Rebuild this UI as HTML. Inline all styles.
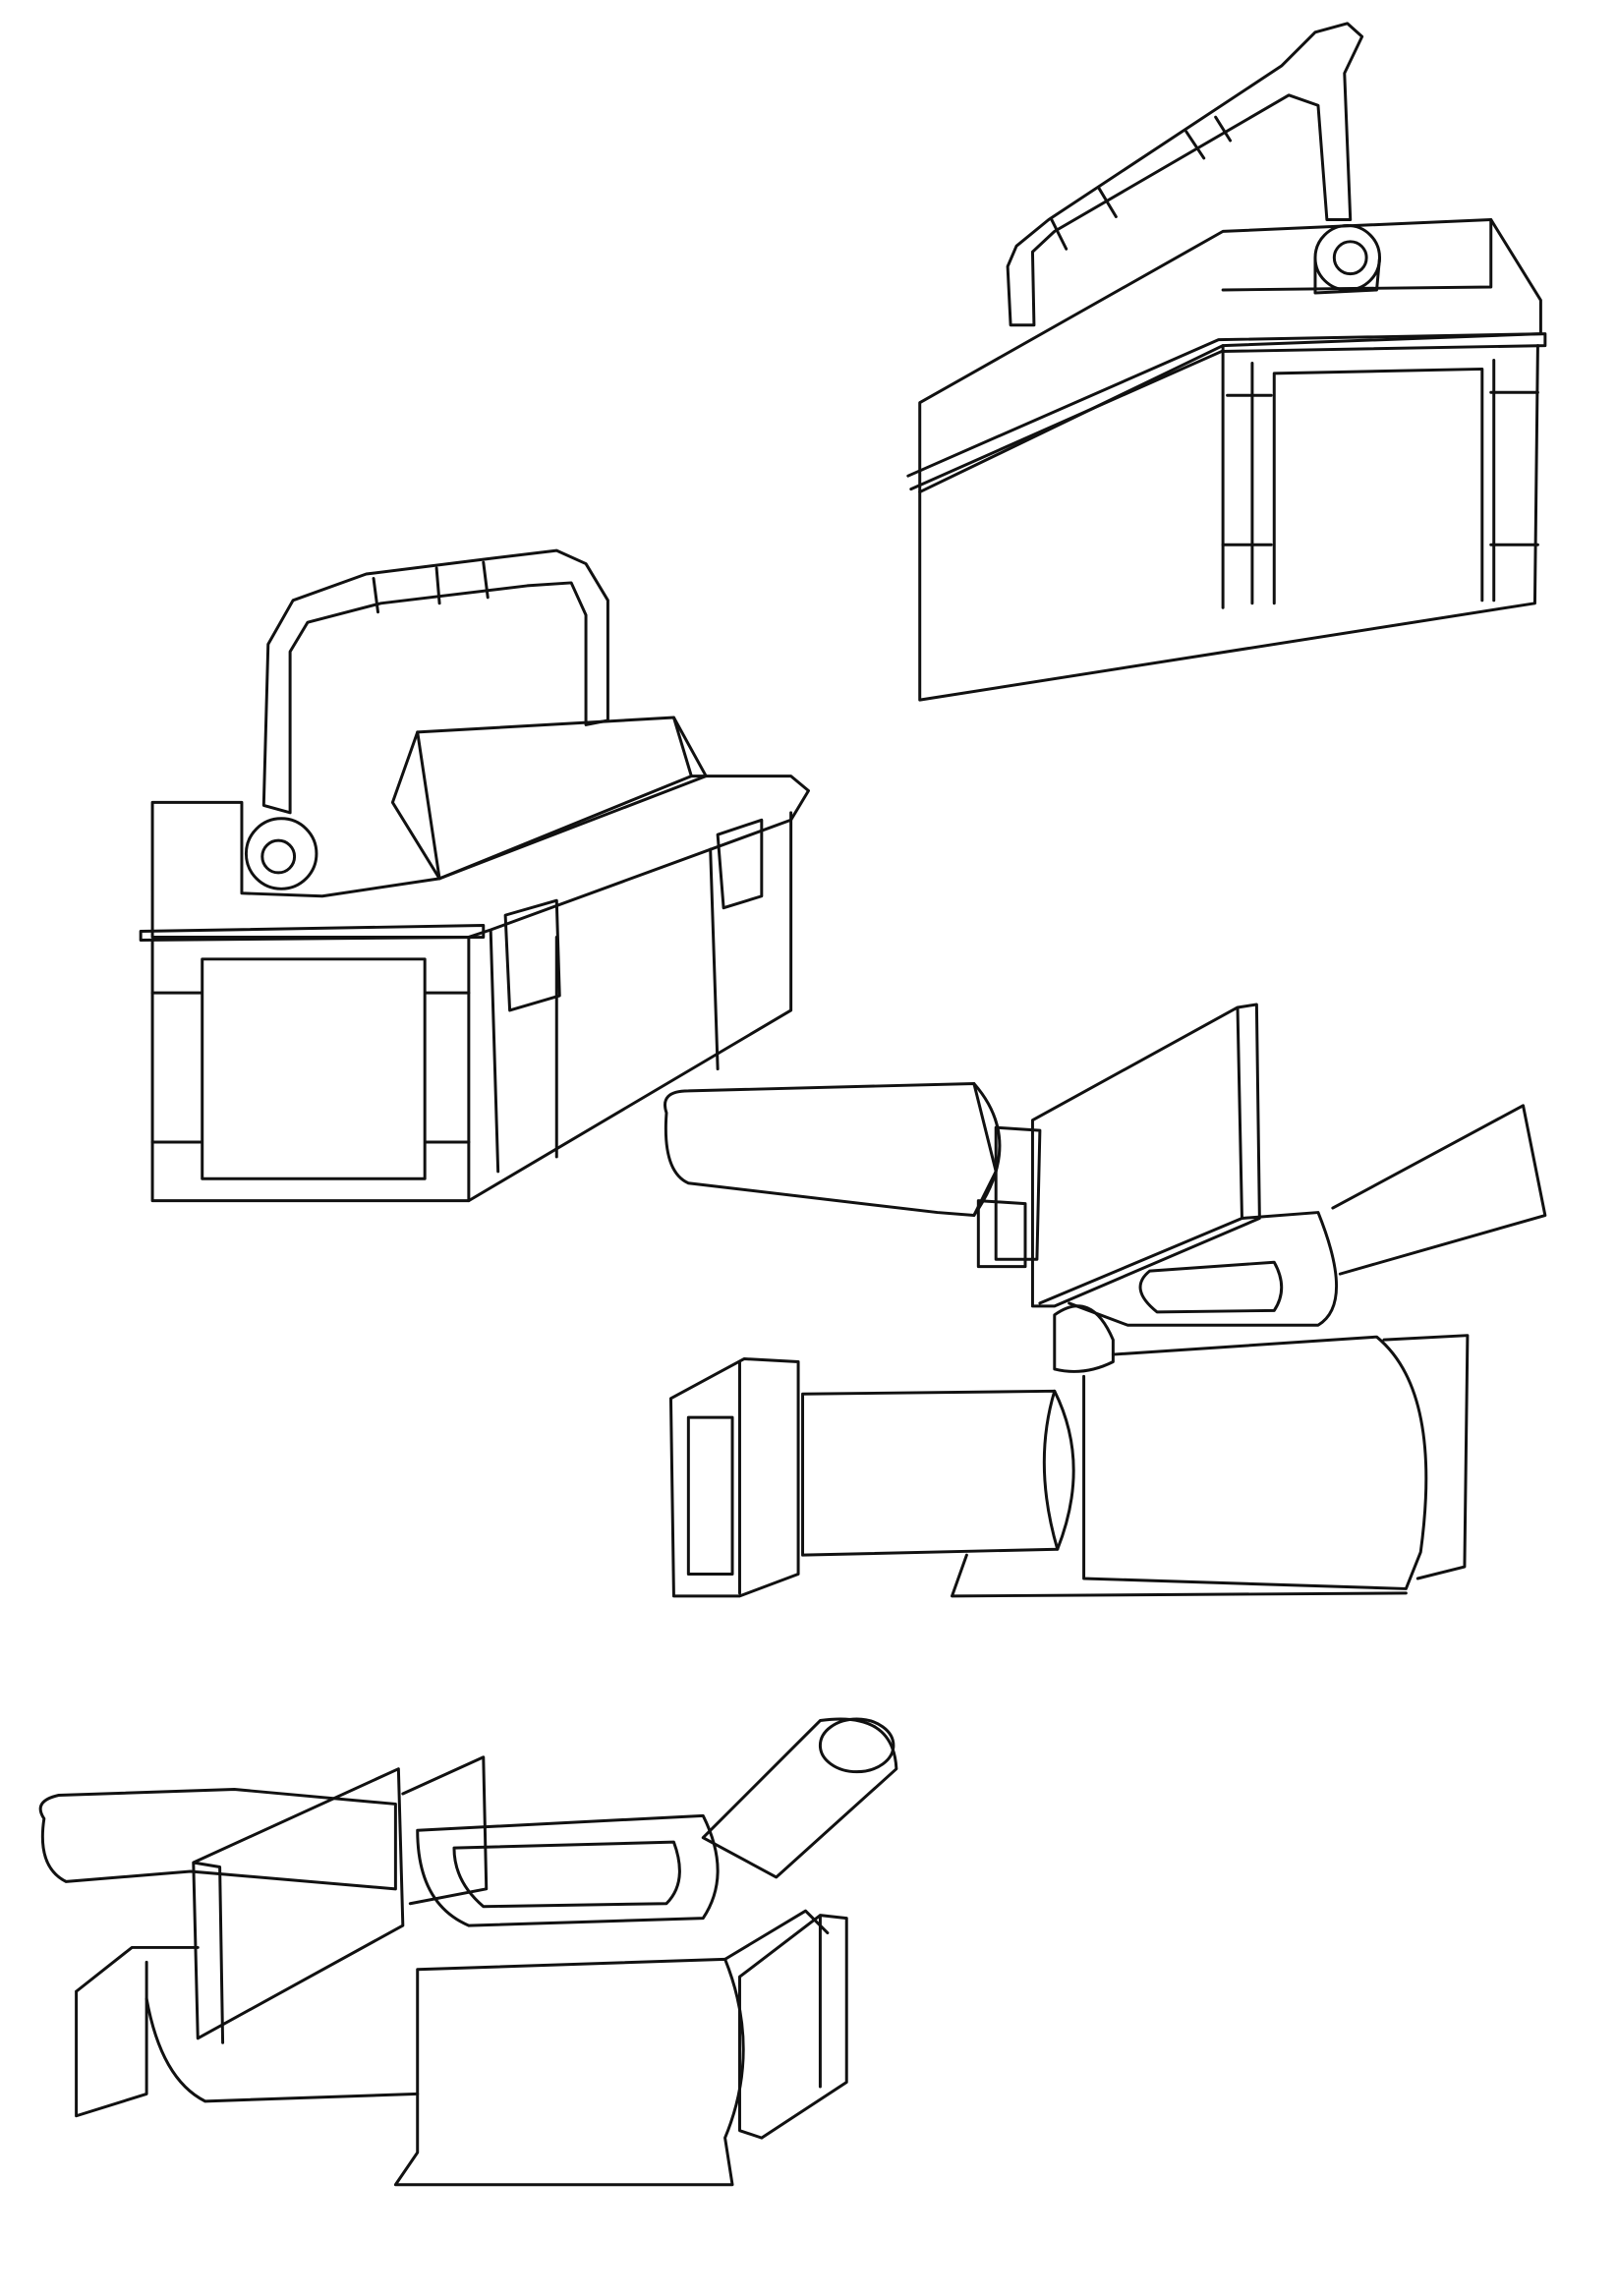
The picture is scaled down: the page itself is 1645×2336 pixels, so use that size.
<!DOCTYPE html>
<html><head><meta charset="utf-8"><style>
html,body{margin:0;padding:0;background:#fff;}
svg{display:block;}
</style></head><body>
<svg width="1645" height="2336" viewBox="0 0 1104 1568" xmlns="http://www.w3.org/2000/svg" fill="none" stroke="#111" stroke-width="2" stroke-linejoin="round" stroke-linecap="round">
<rect x="0" y="0" width="1104" height="1568" fill="#fff" stroke="none"/>

<!-- Top-right toolbox -->
<g>
<path d="M628,275 L835,158 L1018,150 L1052,205 L1052,228 L835,236 L628,336 Z"/>
<path d="M620,325 L832,232 L1055,228 L1055,236 L834,240 L622,334"/>
<path d="M628,336 L628,478 L1048,412 L1050,236"/>
<path d="M835,236 L835,415"/>
<path d="M855,248 L855,412 M870,255 L1012,252 L1012,410 M870,255 L870,412"/>
<path d="M1020,246 L1020,410 M835,372 L868,372 M1018,372 L1050,372 M838,270 L868,270 M1018,268 L1050,268"/>
<path d="M1018,150 L1018,196 L835,198"/>
<!-- handle -->
<path d="M688,182 L690,222 L706,222 L705,172 L720,158 L880,65 L900,72 L906,150 L922,150 L918,50 L930,25 L920,16 L898,22 L875,45 L716,150 L694,168 Z"/>
<path d="M718,150 L728,170 M750,128 L762,148 M810,90 L822,108 M830,80 L840,96"/>
<circle cx="920" cy="176" r="22"/><circle cx="922" cy="176" r="11"/>
<path d="M898,176 L898,200 L940,198 L942,176"/>
</g>

<!-- Left toolbox -->
<g>
<path d="M104,548 L165,548 L165,610 L220,612 L300,600 L472,530 L540,530 L552,540 L540,560 L335,635 L320,640 L104,640 Z"/>
<path d="M96,636 L330,632 L330,640 L96,642 Z"/>
<path d="M104,642 L104,820 L320,820 L540,690 L540,555"/>
<path d="M320,640 L320,820 M335,636 L340,800"/>
<path d="M138,655 L290,655 L290,805 L138,805 Z M104,678 L138,678 M290,678 L320,678 M104,780 L138,780 M290,780 L320,780"/>
<path d="M380,640 L380,790 M485,580 L490,730"/>
<path d="M268,548 L285,500 L460,490 L482,530 L300,600 Z"/>
<path d="M285,500 L300,600 M460,490 L472,530"/>
<!-- handle -->
<path d="M180,550 L183,440 L200,410 L250,392 L330,382 L380,376 L400,385 L415,410 L415,492 L400,495 L400,420 L390,398 L360,400 L260,412 L210,425 L198,445 L198,555 Z"/>
<path d="M255,395 L258,418 M298,388 L300,412 M330,384 L333,408"/>
<circle cx="192" cy="583" r="24"/><circle cx="190" cy="585" r="11"/>
<!-- latches -->
<path d="M345,625 L380,615 L382,680 L348,690 Z M490,570 L520,560 L520,612 L494,620 Z"/>
</g>

<!-- Middle camcorder -->
<g>
<path d="M455,760 Q450,745 470,745 L665,740 L680,800 L665,830 L640,828 L470,808 Q452,800 455,760 Z"/>
<path d="M665,740 Q700,780 665,830"/>
<path d="M680,770 L710,772 L708,860 L680,860 Z M668,820 L700,822 L700,865 L668,865 Z"/>
<path d="M705,765 L845,688 L858,686 L860,832 L720,892 L705,892 Z M845,688 L848,832 L710,890"/>
<path d="M848,832 L900,828 Q925,890 900,905 L770,905 L730,890"/>
<path d="M910,825 L1040,755 L1055,830 L915,870"/>
<path d="M785,868 L870,862 Q880,880 870,895 L790,896 Q770,880 785,868 Z"/>
<path d="M720,898 Q745,880 760,915 L760,930 Q740,940 720,935 Z"/>
<path d="M760,925 L940,913 Q985,950 970,1060 L960,1085 L740,1078 L740,940"/>
<path d="M945,915 L1002,912 L1000,1070 L968,1078"/>
<path d="M548,952 L720,950 Q745,1000 722,1058 L548,1062 Z"/>
<path d="M720,950 Q705,1000 722,1058"/>
<path d="M458,955 L508,928 L545,930 L545,1075 L505,1090 L460,1090 Z M505,930 L505,1088 M470,968 L500,968 L500,1075 L470,1075 Z"/>
<path d="M660,1062 L650,1090 L960,1088"/>
</g>

<!-- Bottom camcorder -->
<g>
<path d="M30,1242 Q22,1230 40,1226 L160,1222 L270,1232 L270,1290 L130,1278 L45,1285 Q25,1275 30,1242 Z"/>
<path d="M132,1272 L272,1208 L275,1315 L135,1392 Z M132,1272 L150,1275 L152,1395"/>
<path d="M275,1225 L330,1200 L332,1290 L280,1300"/>
<path d="M285,1250 L480,1240 Q500,1280 480,1310 L320,1315 Q285,1300 285,1250 Z M310,1262 L460,1258 Q470,1285 455,1300 L330,1302 Q310,1285 310,1262 Z"/>
<path d="M480,1255 L560,1175 Q610,1168 612,1208 L530,1282 Z"/>
<ellipse cx="585" cy="1192" rx="25" ry="18"/>
<path d="M52,1360 L90,1330 L135,1330 M52,1360 L52,1445 L100,1430 L100,1340 M90,1330 L135,1330"/>
<path d="M100,1365 Q110,1420 140,1435 L285,1430"/>
<path d="M285,1345 L495,1338 Q520,1400 495,1460 L500,1492 L270,1492 L285,1470 Z"/>
<path d="M495,1338 L550,1305 L565,1320"/>
<path d="M505,1350 L560,1308 L578,1310 L578,1422 L520,1460 L505,1455 Z M560,1308 L560,1425"/>
</g>
</svg>
</body></html>
